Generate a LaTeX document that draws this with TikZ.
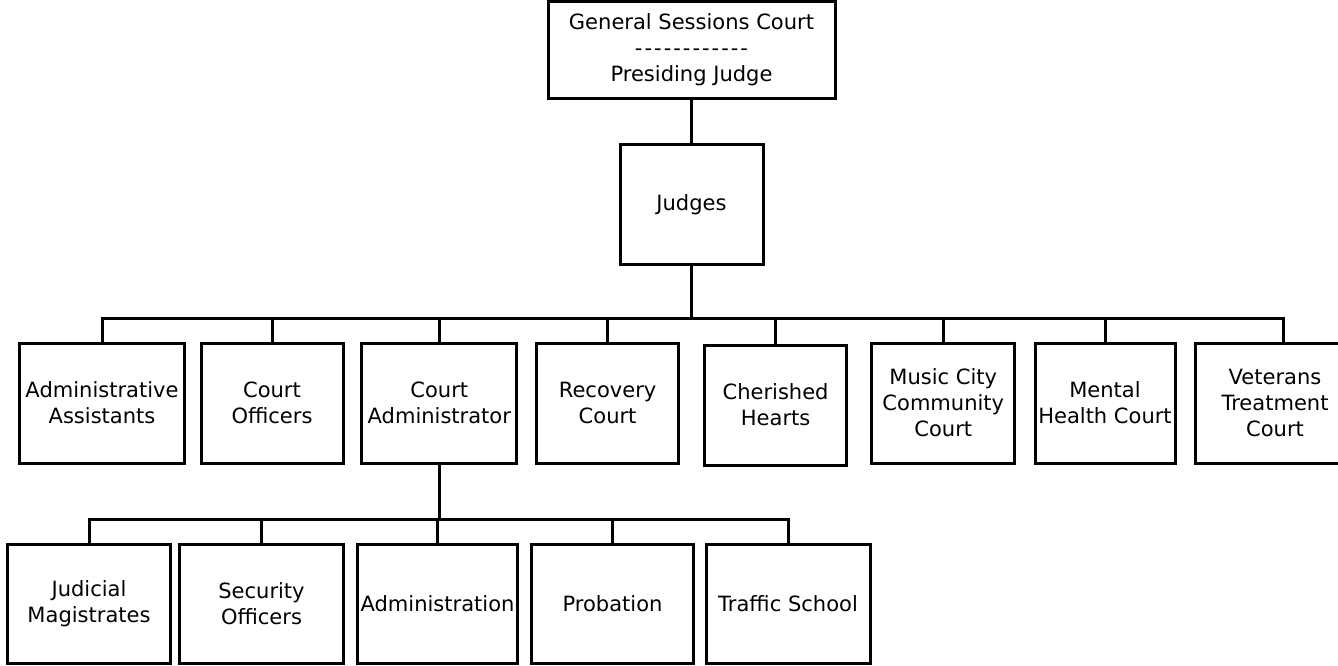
\documentclass[tikz,border=0pt]{standalone}
\usepackage{fontspec}
\setmainfont{DejaVu Sans}
\newcommand\dsh{-\kern2bp}
\begin{document}
\begin{tikzpicture}[x=1bp,y=-1bp,
  box/.style={draw,line width=3bp,inner sep=0pt,align=center,
    font=\fontsize{21.1}{26.1}\selectfont},
  conn/.style={line width=3bp}]
\useasboundingbox (0,0) rectangle (1338,666);
% top
\node[box,minimum width=287bp,minimum height=96bp] (gsc) at (691.5,50)
  {General Sessions Court\\\dsh\dsh\dsh\dsh\dsh\dsh\dsh\dsh\dsh\dsh\dsh-\\Presiding Judge};
\node[box,minimum width=143bp,minimum height=119bp] (judges) at (691.5,204.5) {Judges};
% row 1
\node[box,minimum width=164bp,minimum height=120bp] (aa) at (102,403) {Administrative\\Assistants};
\node[box,minimum width=142bp,minimum height=120bp] (co) at (272,403) {Court\\Officers};
\node[box,minimum width=155bp,minimum height=120bp] (ca) at (439.3,403) {Court\\Administrator};
\node[box,minimum width=142bp,minimum height=120bp] (rc) at (607.6,403) {Recovery\\Court};
\node[box,minimum width=142bp,minimum height=120bp] (ch) at (775.6,405) {Cherished\\Hearts};
\node[box,minimum width=143bp,minimum height=120bp] (mc) at (943.3,403) {Music City\\Community\\Court};
\node[box,minimum width=140bp,minimum height=120bp] (mh) at (1105,403) {Mental\\Health Court};
\node[box,minimum width=160bp,minimum height=120bp] (vt) at (1275,403) {Veterans\\Treatment\\Court};
% row 2
\node[box,minimum width=162bp,minimum height=119bp] (jm) at (89,603.5) {Judicial\\Magistrates};
\node[box,minimum width=164bp,minimum height=119bp] (so) at (261.5,603.5) {Security\\Officers};
\node[box,minimum width=160bp,minimum height=119bp] (ad) at (437.5,603.5) {Administration};
\node[box,minimum width=162bp,minimum height=119bp] (pr) at (612.5,603.5) {Probation};
\node[box,minimum width=164bp,minimum height=119bp] (ts) at (788,603.5) {Traffic School};
% connectors
\coordinate (b1) at (691.5,318);
\coordinate (b2) at (439.3,519);
\draw[conn] (gsc.south) -- (judges.north);
\draw[conn] (judges.south) -- (b1);
\foreach \n in {aa,co,ca,rc,ch,mc,mh} \draw[conn] (b1) -| (\n.north);
\draw[conn] (b1) -| ([xshift=8bp]vt.north);
\draw[conn] (ca.south) -- (b2);
\foreach \n in {jm,so,ad,pr,ts} \draw[conn] (b2) -| (\n.north);
\end{tikzpicture}
\end{document}
